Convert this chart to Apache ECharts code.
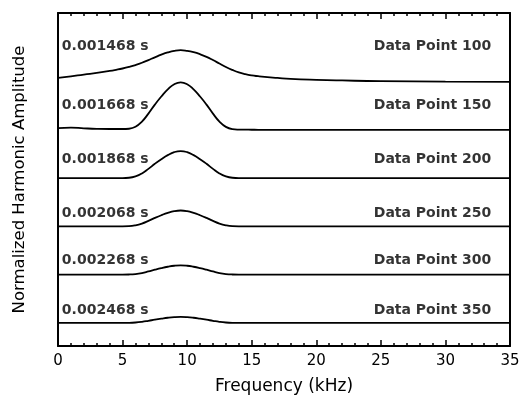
<!DOCTYPE html>
<html>
<head>
<meta charset="utf-8">
<script src="https://cdn.jsdelivr.net/npm/echarts@6/dist/echarts.min.js"></script>
<style>html,body{margin:0;padding:0;background:#fff;}#c{width:526px;height:400px;}</style>
</head>
<body>
<div id="c"></div>
<script>
// Frequency grid (kHz)
var freq = [0,1,2,3,4,4.5,5,5.5,6,6.5,7,7.5,8,8.5,9,9.5,10,10.5,11,11.5,12,12.5,13,13.5,14,14.5,15,15.5,16,17,18,20,22,25,30,35];
// Normalized harmonic amplitude per data point (units: one trace spacing)
var dp100 = [0.076,0.107,0.145,0.178,0.219,0.243,0.270,0.303,0.342,0.389,0.445,0.502,0.557,0.603,0.636,0.650,0.636,0.608,0.566,0.512,0.445,0.373,0.301,0.240,0.189,0.153,0.127,0.110,0.096,0.074,0.055,0.035,0.022,0.008,0.000,-0.006];
var dp150 = [0.033,0.045,0.031,0.020,0.016,0.016,0.016,0.022,0.062,0.170,0.335,0.522,0.689,0.836,0.945,0.984,0.945,0.836,0.689,0.522,0.335,0.170,0.060,0.014,0.004,0.002,0.001,0,0,0,0,0,0,0,0,0];
var dp200 = [0,0,0,0,0,0,0,0.006,0.034,0.095,0.190,0.296,0.391,0.475,0.537,0.559,0.537,0.475,0.391,0.296,0.190,0.095,0.034,0.006,0,0,0,0,0,0,0,0,0,0,0,0];
var dp250 = [0,0,0,0,0,0,0,0.003,0.020,0.056,0.112,0.174,0.230,0.279,0.315,0.328,0.315,0.279,0.230,0.174,0.112,0.056,0.020,0.003,0,0,0,0,0,0,0,0,0,0,0,0];
var dp300 = [0,0,0,0,0,0,0,0.002,0.011,0.032,0.065,0.101,0.134,0.162,0.183,0.191,0.183,0.162,0.134,0.101,0.065,0.032,0.011,0.002,0,0,0,0,0,0,0,0,0,0,0,0];
var dp350 = [0,0,0,0,0,0,0,0.001,0.007,0.021,0.042,0.065,0.086,0.105,0.118,0.123,0.118,0.105,0.086,0.065,0.042,0.021,0.007,0.001,0,0,0,0,0,0,0,0,0,0,0,0];
var times = ['0.001468 s','0.001668 s','0.001868 s','0.002068 s','0.002268 s','0.002468 s'];
var pointNames = ['Data Point 100','Data Point 150','Data Point 200','Data Point 250','Data Point 300','Data Point 350'];
var xTicks = [0,5,10,15,20,25,30,35];

var traces = [dp100, dp150, dp200, dp250, dp300, dp350];
// layout
var baseOffset = 0.48, spacing = 1.0, yMax = 6.9;
var labelRaise = [0.73, 0.50, 0.39, 0.27, 0.30, 0.26];
var FONT = 'DejaVu Sans';
function labelStyle(pos, txt){
  return {show: true, color: '#000', fontFamily: FONT, fontWeight: 'bold', fontSize: 14, distance: 0, position: pos, formatter: txt};
}

var series = [];
traces.forEach(function(tr, i){
  var base = baseOffset + (traces.length - 1 - i) * spacing;
  series.push({
    type: 'line', smooth: 0.5, symbol: 'none', silent: true,
    lineStyle: {color: '#000', width: 1.8},
    data: freq.map(function(f, j){ return [f, tr[j] + base]; })
  });
  series.push({
    type: 'scatter', symbolSize: 0, silent: true,
    data: [
      {value: [0.3, base + labelRaise[i]], label: labelStyle('right', times[i])},
      {value: [33.55, base + labelRaise[i]], label: labelStyle('left', pointNames[i])}
    ]
  });
});
// bind frame axes (top ticks / right line)
series.push({type: 'line', xAxisIndex: 1, yAxisIndex: 1, data: [[0, 0], [35, yMax]], symbol: 'none', lineStyle: {opacity: 0}, silent: true});

function tickCfg(){ return {show: true, inside: true, length: 6, lineStyle: {color: '#000', width: 1.5}}; }
function minorCfg(){ return {show: true, splitNumber: 5, length: 3, lineStyle: {color: '#000', width: 1.5}}; }
function lineCfg(){ return {show: true, onZero: false, lineStyle: {color: '#000', width: 2}}; }

var chart = echarts.init(document.getElementById('c'), null, {renderer: 'canvas'});
chart.setOption({
  animation: false,
  backgroundColor: '#fff',
  grid: {left: 58, right: 16, top: 13, bottom: 50, containLabel: false},
  xAxis: [{
    type: 'value', min: 0, max: 35, interval: 5, position: 'bottom',
    axisLine: lineCfg(), axisTick: tickCfg(), minorTick: minorCfg(), splitLine: {show: false},
    axisLabel: {color: '#000', fontFamily: FONT, fontSize: 15, margin: 8,
      formatter: function(v){ return xTicks.indexOf(v) >= 0 ? String(v) : ''; }},
    name: 'Frequency (kHz)', nameLocation: 'middle', nameGap: 32,
    nameTextStyle: {color: '#000', fontFamily: FONT, fontSize: 17}
  },{
    type: 'value', min: 0, max: 35, interval: 5, position: 'top',
    axisLine: lineCfg(), axisTick: tickCfg(), minorTick: minorCfg(), splitLine: {show: false},
    axisLabel: {show: false}
  }],
  yAxis: [{
    type: 'value', min: 0, max: yMax, position: 'left',
    axisLine: lineCfg(), axisTick: {show: false}, axisLabel: {show: false}, splitLine: {show: false},
    name: 'Normalized Harmonic Amplitude', nameLocation: 'middle', nameGap: 30,
    nameTextStyle: {color: '#000', fontFamily: FONT, fontSize: 16.5}
  },{
    type: 'value', min: 0, max: yMax, position: 'right',
    axisLine: lineCfg(), axisTick: {show: false}, axisLabel: {show: false}, splitLine: {show: false}
  }],
  series: series
});
</script>
</body>
</html>
